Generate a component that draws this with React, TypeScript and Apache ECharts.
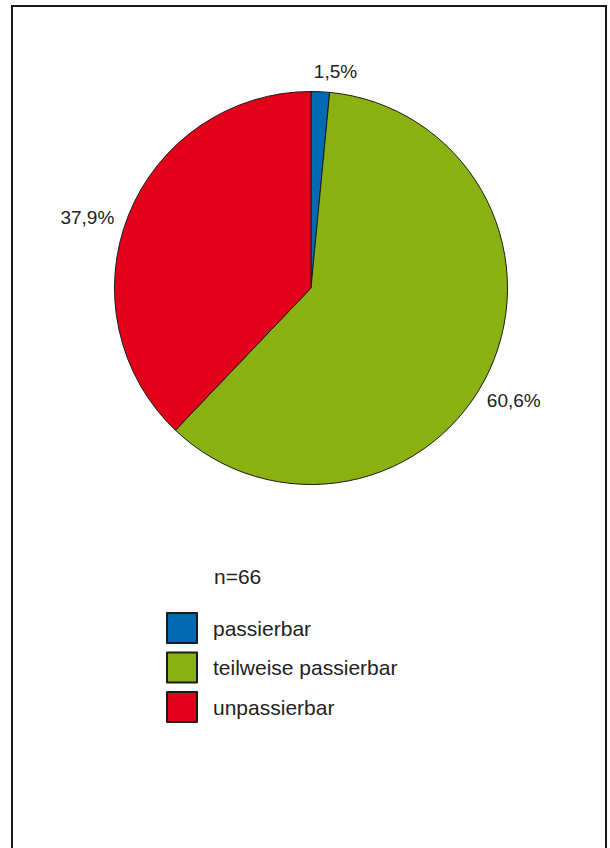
import React, { useEffect, useRef } from "react";
import * as echarts from "echarts";

const categories = ["passierbar", "teilweise passierbar", "unpassierbar"];
const counts = [1, 40, 25];
const colors = ["#006AB3", "#8AB112", "#E2001A"];

const FONT = "'Liberation Sans', Arial, Helvetica, sans-serif";
const TEXT = "#222222";

// label nudges relative to the library's outside placement
const labelNudges = [
  { dx: -12, dy: -10 },
  { dx: -17, dy: 27 },
  { dx: 0, dy: 6 },
];

export default function App() {
  const ref = useRef<HTMLDivElement>(null);
  useEffect(() => {
    if (!ref.current) return;
    const chart = echarts.init(ref.current, null, { renderer: "svg" });
    const total = counts.reduce((a, b) => a + b, 0);
    const data = categories.map((name, i) => ({
      name,
      value: counts[i],
      itemStyle: { color: colors[i] },
    }));
    chart.setOption({
      animation: false,
      backgroundColor: "#ffffff",
      textStyle: { fontFamily: FONT },
      legend: {
        orient: "vertical",
        left: 166,
        top: 612,
        padding: 0,
        icon: "rect",
        itemWidth: 30,
        itemHeight: 30,
        itemGap: 7.5,
        selectedMode: false,
        data: categories,
        textStyle: {
          fontFamily: FONT,
          fontSize: 21,
          lineHeight: 30,
          color: TEXT,
          padding: [0, 0, 0, 11],
        },
      },
      graphic: [
        {
          type: "rect",
          shape: { x: 12, y: 6, width: 594, height: 900 },
          style: { fill: "none", stroke: "#1a1a1a", lineWidth: 2 },
          silent: true,
        },
        {
          type: "text",
          left: 214,
          top: 566,
          style: {
            text: `n=${total}`,
            fontSize: 21,
            fontFamily: FONT,
            fill: TEXT,
          },
        },
      ],
      series: [
        {
          type: "pie",
          center: [311, 288],
          radius: 196.5,
          startAngle: 90,
          clockwise: true,
          avoidLabelOverlap: false,
          data,
          itemStyle: { borderColor: "#1a1a1a", borderWidth: 1 },
          emphasis: { disabled: true },
          label: {
            show: true,
            position: "outside",
            fontFamily: FONT,
            fontSize: 19,
            color: TEXT,
            formatter: (p: any) =>
              ((p.value / total) * 100).toFixed(1).replace(".", ",") + "%",
          },
          labelLine: { show: false, length: 10, length2: 0 },
          labelLayout: (p: any) => labelNudges[p.dataIndex],
        },
      ],
    });
    return () => chart.dispose();
  }, []);
  return (
    <div
      ref={ref}
      style={{ position: "absolute", left: 0, top: 0, width: 610, height: 848 }}
    />
  );
}
